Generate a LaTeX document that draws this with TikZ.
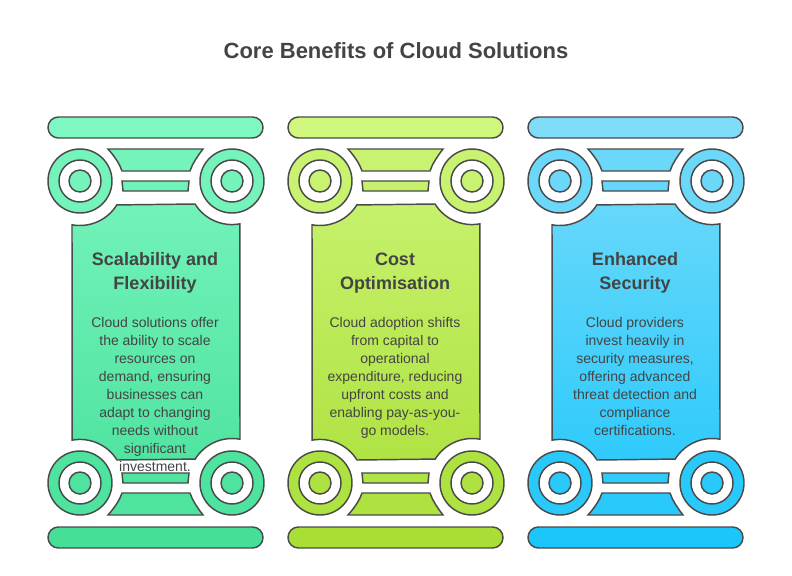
\documentclass[tikz,border=0pt]{standalone}
\usepackage{fontspec}
\setmainfont{Liberation Sans}
\definecolor{ink}{HTML}{444444}
\definecolor{edge}{HTML}{4A4A4A}
\definecolor{gL}{HTML}{80F8C4}\definecolor{gD}{HTML}{45DF98}
\definecolor{yL}{HTML}{D0F77E}\definecolor{yD}{HTML}{A8DE35}
\definecolor{bL}{HTML}{7FDDFA}\definecolor{bD}{HTML}{1BC6FB}
\tikzset{part/.style={draw=edge,line width=1.1pt},
 head/.style={font=\bfseries\fontsize{13.5}{18}\selectfont,text=ink,align=center},
 body/.style={font=\fontsize{10.5}{13.5}\selectfont,text=ink,align=center}}
\newcommand{\volute}[3]{% center x,y, color
 \path[part,fill=#3] (#1,#2) circle[radius=32];
 \path[part,fill=white] (#1,#2) circle[radius=21];
 \path[part,fill=#3] (#1,#2) circle[radius=11];}
\newcommand{\pillarshape}[2]{%
 \path[part,fill=#1,rounded corners=7.8pt] (48,117) rectangle (263,138);
 \path[part,fill=#1!80!#2] (108,149) -- (203,149) .. controls (196,158) and (192,165) .. (190,171) -- (122,171) .. controls (120,165) and (116,158) .. (108,149) -- cycle;
 \path[part,fill=#1!75!#2] (122,181) -- (189,181) -- (188,191) -- (123,191) -- cycle;
 \volute{80}{181}{#1!80!#2}\volute{232}{181}{#1!80!#2}
 \path[part,top color=#1!75!#2,bottom color=#1!20!#2] (72,224.8) arc[start angle=100.3,end angle=31.9,radius=43.6] -- (195,204) arc[start angle=148.1,end angle=79.7,radius=43.6] -- (240,439.2) arc[start angle=-79.7,end angle=-148.1,radius=43.6] -- (117,460) arc[start angle=-31.9,end angle=-100.3,radius=43.6] -- cycle;
 \path[part,fill=#1!20!#2] (122,473) -- (189,473) -- (188,483) -- (123,483) -- cycle;
 \path[part,fill=#1!15!#2] (108,515) -- (203,515) .. controls (196,506) and (192,499) .. (190,493) -- (122,493) .. controls (120,499) and (116,506) .. (108,515) -- cycle;
 \volute{80}{483}{#1!15!#2}\volute{232}{483}{#1!15!#2}
 \path[part,fill=#2,rounded corners=7.8pt] (48,527) rectangle (263,548);}
\begin{document}
\begin{tikzpicture}[x=0.75pt,y=-0.75pt]
\useasboundingbox (0,0) rectangle (792,575);
\node[font=\bfseries\fontsize{16.5}{20}\selectfont,text=ink] (title) at (396,51) {Core Benefits of Cloud Solutions};
\begin{scope}\pillarshape{gL}{gD}\end{scope}
\begin{scope}[shift={(240,0)}]\pillarshape{yL}{yD}\end{scope}
\begin{scope}[shift={(480,0)}]\pillarshape{bL}{bD}\end{scope}
\node[head] (h1) at (155,273) {Scalability and\\Flexibility};
\node[head] (h2) at (395,273) {Cost\\Optimisation};
\node[head] (h3) at (635,273) {Enhanced\\Security};
\node[body,anchor=north] (b1) at (155,313) {Cloud solutions offer\\the ability to scale\\resources on\\demand, ensuring\\businesses can\\adapt to changing\\needs without\\significant\\investment.};
\node[body,anchor=north] (b2) at (395,313) {Cloud adoption shifts\\from capital to\\operational\\expenditure, reducing\\upfront costs and\\enabling pay-as-you-\\go models.};
\node[body,anchor=north] (b3) at (635,313) {Cloud providers\\invest heavily in\\security measures,\\offering advanced\\threat detection and\\compliance\\certifications.};
\end{tikzpicture}
\end{document}
